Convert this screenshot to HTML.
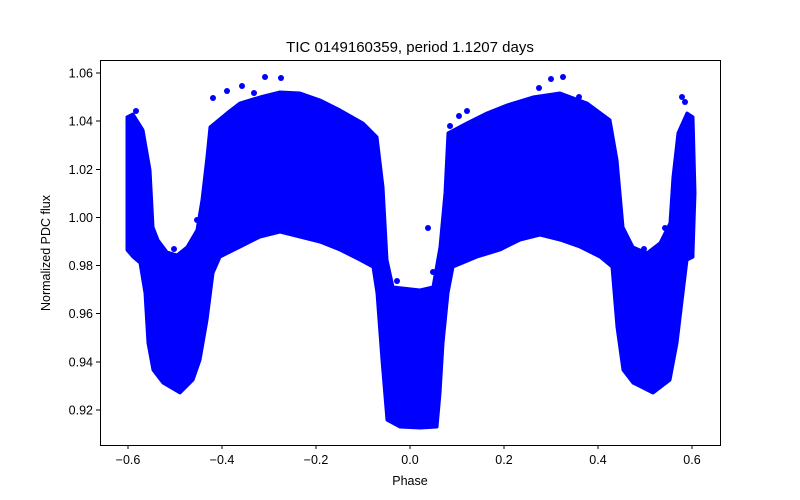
<!DOCTYPE html>
<html><head><meta charset="utf-8"><style>body{margin:0;background:#fff}svg{display:block}text{font-family:"Liberation Sans","DejaVu Sans",sans-serif;font-size:12.5px;fill:#000}</style></head>
<body>
<svg width="800" height="500" viewBox="0 0 800 500" xmlns="http://www.w3.org/2000/svg">
<rect width="800" height="500" fill="#fff"/>
<polygon fill="#0000ff" stroke="#0000ff" stroke-width="3" stroke-linejoin="round" points="
127,117 133,114 143,130 150,170 153,227 158,240 167,252 177,255 187,247 197,230 202,200 207,157 210,127 227,113 240,103 260,97 280,92 300,93 320,100 340,110 363,123 377,137 383,187 387,260 393,287 420,290 433,287 440,247 445,193 448,133 467,123 487,113 507,105 533,97 560,93 587,103 610,120 617,160 623,227 633,247 647,253 660,243 670,223 673,177 678,133 687,113 693,117 695,193 693,253
693,257 687,260 683,293 677,343 670,380 653,393 633,383 623,370 617,327 612,267 600,257 580,247 560,240 540,235 520,240 500,250 477,257 453,267 448,293 443,343 440,393 437,427 420,428 400,427 387,420 382,360 377,293 373,267 360,260 340,250 320,242 300,237 280,232 260,237 240,247 220,257 213,273 207,320 200,360 193,380 180,393 163,383 153,370 148,343 145,293 140,263 133,257 127,250"/>
<g fill="#0000ff">
<circle cx="136" cy="111" r="3"/><circle cx="213" cy="98" r="3"/><circle cx="227" cy="91" r="3"/><circle cx="242" cy="86" r="3"/><circle cx="265" cy="77" r="3"/><circle cx="281" cy="78" r="3"/><circle cx="254" cy="93" r="3"/><circle cx="174" cy="249" r="3"/><circle cx="197" cy="220" r="3"/><circle cx="397" cy="281" r="3"/><circle cx="428" cy="228" r="3"/><circle cx="433" cy="272" r="3"/><circle cx="450" cy="126" r="3"/><circle cx="459" cy="116" r="3"/><circle cx="467" cy="111" r="3"/><circle cx="539" cy="88" r="3"/><circle cx="551" cy="79" r="3"/><circle cx="563" cy="77" r="3"/><circle cx="579" cy="97" r="3"/><circle cx="682" cy="97" r="3"/><circle cx="685" cy="102" r="3"/><circle cx="644" cy="249" r="3"/><circle cx="665" cy="228" r="3"/><circle cx="133" cy="227" r="2"/>
</g>
<rect x="100.5" y="60.5" width="620" height="385" fill="none" stroke="#000" stroke-width="1"/>
<g stroke="#000" stroke-width="1">
<line x1="128" y1="445" x2="128" y2="449"/><line x1="222" y1="445" x2="222" y2="449"/><line x1="316" y1="445" x2="316" y2="449"/><line x1="410" y1="445" x2="410" y2="449"/><line x1="504" y1="445" x2="504" y2="449"/><line x1="598" y1="445" x2="598" y2="449"/><line x1="692" y1="445" x2="692" y2="449"/>
<line x1="96" y1="73" x2="100" y2="73"/><line x1="96" y1="121" x2="100" y2="121"/><line x1="96" y1="169.5" x2="100" y2="169.5"/><line x1="96" y1="217.5" x2="100" y2="217.5"/><line x1="96" y1="265.5" x2="100" y2="265.5"/><line x1="96" y1="313.5" x2="100" y2="313.5"/><line x1="96" y1="362" x2="100" y2="362"/><line x1="96" y1="410" x2="100" y2="410"/>
</g>
<g text-anchor="middle">
<text x="128" y="464">−0.6</text><text x="222" y="464">−0.4</text><text x="316" y="464">−0.2</text><text x="410" y="464">0.0</text><text x="504" y="464">0.2</text><text x="598" y="464">0.4</text><text x="692" y="464">0.6</text>
<text x="410" y="485">Phase</text>
<text x="410" y="52" style="font-size:15px">TIC 0149160359, period 1.1207 days</text>
</g>
<g text-anchor="end">
<text x="93" y="77.5">1.06</text><text x="93" y="125.5">1.04</text><text x="93" y="174">1.02</text><text x="93" y="222">1.00</text><text x="93" y="270">0.98</text><text x="93" y="318">0.96</text><text x="93" y="366.5">0.94</text><text x="93" y="414.5">0.92</text>
</g>
<text transform="translate(50,253) rotate(-90)" text-anchor="middle">Normalized PDC flux</text>
</svg>
</body></html>
